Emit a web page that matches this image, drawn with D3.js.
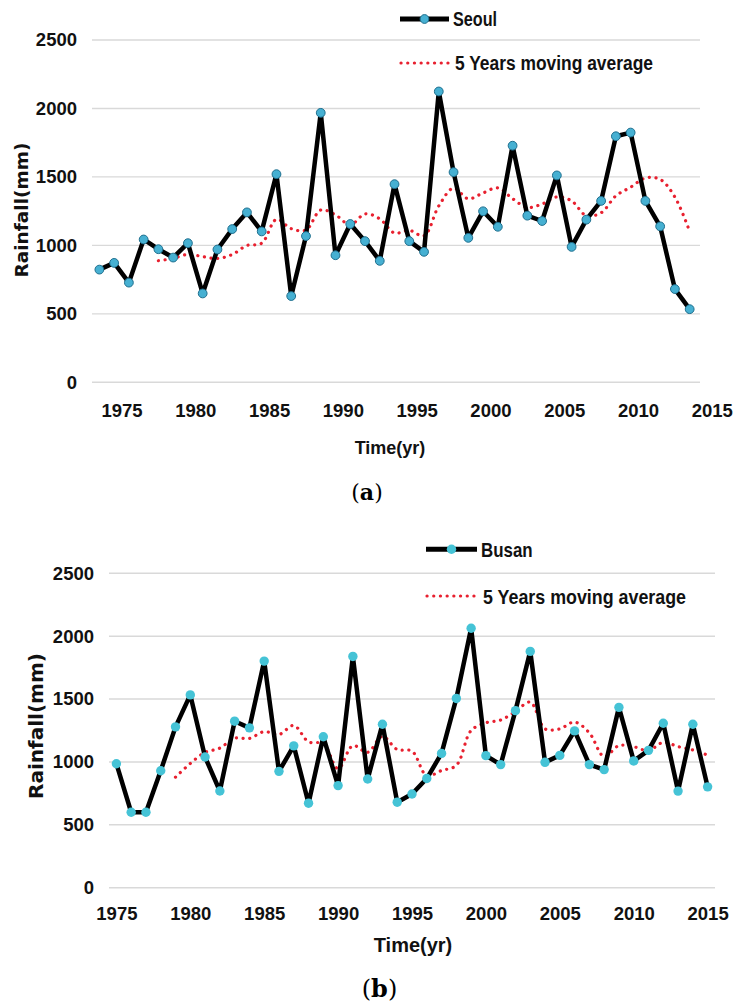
<!DOCTYPE html>
<html><head><meta charset="utf-8">
<script src="https://cdn.jsdelivr.net/npm/d3@7"></script>
<style>body{margin:0;background:#fff;} svg{display:block}</style>
</head><body>
<svg id="c" width="735" height="1005"></svg>
<script>
// ---------- DATA ----------
const seoulYears = d3.range(1973, 2014);
const seoulRain = [823, 872, 728, 1043, 972, 911, 1016, 649, 970, 1119,
  1241, 1102, 1520, 630, 1068, 1968, 928, 1156, 1031, 887,
  1447, 1031, 953, 2124, 1535, 1055, 1249, 1136, 1728, 1217,
  1178, 1511, 989, 1188, 1325, 1797, 1824, 1325, 1139, 681, 534];
const seoulMAYears = d3.range(1977, 2014);
const seoulMA = [888, 905, 934, 918, 904, 933, 999, 1016, 1190, 1122,
  1112, 1258, 1223, 1150, 1230, 1194, 1090, 1110, 1070, 1288,
  1418, 1340, 1383, 1420, 1341, 1277, 1302, 1354, 1325, 1217,
  1238, 1362, 1425, 1492, 1482, 1353, 1101];

const busanYears = d3.range(1975, 2016);
const busanRain = [986, 600, 600, 930, 1279, 1533, 1039, 769, 1324, 1271,
  1802, 925, 1128, 672, 1200, 812, 1839, 864, 1300, 680,
  745, 868, 1068, 1505, 2063, 1050, 979, 1408, 1879, 997,
  1052, 1247, 979, 939, 1434, 1008, 1092, 1308, 768, 1300, 802];
const busanMAYears = d3.range(1979, 2016);
const busanMA = [879, 988, 1076, 1110, 1189, 1187, 1241, 1218, 1290, 1160,
  1145, 947, 1130, 1077, 1203, 1099, 1086, 891, 932, 973,
  1250, 1311, 1333, 1401, 1476, 1263, 1263, 1317, 1231, 1043,
  1130, 1121, 1090, 1156, 1122, 1095, 1054];

const yTicks = [0, 500, 1000, 1500, 2000, 2500];
const xTickLabels = [1975, 1980, 1985, 1990, 1995, 2000, 2005, 2010, 2015];

// ---------- DRAW ----------
const svg = d3.select("#c");

function panel(cfg) {
  const g = svg.append("g");
  const x = d3.scaleLinear().domain(cfg.xDomain).range(cfg.xRange);
  const y = d3.scaleLinear().domain([0, 2500]).range(cfg.yRange);

  // gridlines
  g.append("g").selectAll("line").data(yTicks).join("line")
    .attr("x1", cfg.xRange[0]).attr("x2", cfg.xRange[1])
    .attr("y1", d => y(d)).attr("y2", d => y(d))
    .attr("stroke", "#d9d9d9").attr("stroke-width", 1.4);

  // y axis
  const ya = g.append("g").attr("transform", `translate(${cfg.xRange[0]},0)`)
    .call(d3.axisLeft(y).tickValues(yTicks).tickFormat(d3.format("d")).tickSize(0).tickPadding(15));
  ya.select(".domain").remove();
  ya.selectAll("text").attr("font-family", "Liberation Sans, Arial, sans-serif")
    .attr("font-weight", "bold").attr("font-size", cfg.tickSize).attr("fill", "#111");

  // x axis
  const xa = g.append("g").attr("transform", `translate(0,${cfg.yRange[0]})`)
    .call(d3.axisBottom(x).tickValues(xTickLabels.map(v => v - cfg.labelShift))
      .tickFormat(d => String(Math.round(d + cfg.labelShift))).tickSize(0).tickPadding(cfg.xPad));
  xa.select(".domain").remove();
  xa.selectAll("text").attr("font-family", "Liberation Sans, Arial, sans-serif")
    .attr("font-weight", "bold").attr("font-size", cfg.tickSize).attr("fill", "#111");

  // moving average
  const maData = cfg.maYears.map((yr, i) => ({yr, v: cfg.ma[i]}));
  g.append("path").datum(maData)
    .attr("d", d3.line().x(d => x(d.yr)).y(d => y(d.v)).curve(d3.curveCatmullRom.alpha(0.5)))
    .attr("fill", "none").attr("stroke", "#e8202f").attr("stroke-width", 3.2)
    .attr("stroke-dasharray", "0.1,6.6").attr("stroke-linecap", "round");

  // main series
  const data = cfg.years.map((yr, i) => ({yr, v: cfg.rain[i]}));
  g.append("path").datum(data)
    .attr("d", d3.line().x(d => x(d.yr)).y(d => y(d.v)))
    .attr("fill", "none").attr("stroke", "#000").attr("stroke-width", 4.5)
    .attr("stroke-linejoin", "round");
  g.append("g").selectAll("circle").data(data).join("circle")
    .attr("cx", d => x(d.yr)).attr("cy", d => y(d.v)).attr("r", cfg.r)
    .attr("fill", cfg.mFill).attr("stroke", cfg.mStroke).attr("stroke-width", cfg.mStroke === "none" ? 0 : 1);

  // legend
  const L = cfg.legend;
  g.append("line").attr("x1", L.x0).attr("x2", L.x1).attr("y1", L.y1).attr("y2", L.y1)
    .attr("stroke", "#000").attr("stroke-width", 5);
  g.append("circle").attr("cx", (L.x0 + L.x1) / 2).attr("cy", L.y1).attr("r", cfg.r)
    .attr("fill", cfg.mFill).attr("stroke", cfg.mStroke).attr("stroke-width", cfg.mStroke === "none" ? 0 : 1);
  g.append("text").attr("x", L.tx1).attr("y", L.y1).attr("dy", "0.36em")
    .attr("font-family", "Liberation Sans, Arial, sans-serif").attr("font-weight", "bold")
    .attr("font-size", L.fs).attr("fill", "#111")
    .attr("textLength", L.w1).attr("lengthAdjust", "spacingAndGlyphs").text(cfg.name);
  g.append("line").attr("x1", L.x0 + 1).attr("x2", L.x1).attr("y1", L.y2).attr("y2", L.y2)
    .attr("stroke", "#e8202f").attr("stroke-width", 3.2)
    .attr("stroke-dasharray", "0.1,6.6").attr("stroke-linecap", "round");
  g.append("text").attr("x", L.tx2).attr("y", L.y2).attr("dy", "0.36em")
    .attr("font-family", "Liberation Sans, Arial, sans-serif").attr("font-weight", "bold")
    .attr("font-size", L.fs).attr("fill", "#111")
    .attr("textLength", L.w2).attr("lengthAdjust", "spacingAndGlyphs").text("5 Years moving average");

  // axis titles
  g.append("text").attr("transform", `translate(${cfg.yt[0]},${cfg.yt[1]}) rotate(-90)`)
    .attr("text-anchor", "middle").attr("dy", "0.36em")
    .attr("font-family", "DejaVu Sans, Verdana, sans-serif").attr("font-weight", "bold")
    .attr("font-size", cfg.ytSize).attr("fill", "#111").text("Rainfall(mm)");
  g.append("text").attr("x", cfg.xt[0]).attr("y", cfg.xt[1]).attr("dy", "0.36em")
    .attr("text-anchor", "middle")
    .attr("font-family", "Liberation Sans, Arial, sans-serif").attr("font-weight", "bold")
    .attr("font-size", cfg.xtSize).attr("fill", "#111").text("Time(yr)");

  // panel label
  const pl = g.append("text").attr("x", cfg.pl[0]).attr("y", cfg.pl[1]).attr("text-anchor", "middle")
    .attr("font-family", "DejaVu Serif, Liberation Serif, serif").attr("font-size", cfg.plSize).attr("fill", "#000");
  pl.append("tspan").text("(");
  pl.append("tspan").attr("font-weight", "bold").text(cfg.letter);
  pl.append("tspan").text(")");
}

panel({
  name: "Seoul", letter: "a",
  years: seoulYears, rain: seoulRain, maYears: seoulMAYears, ma: seoulMA,
  xDomain: [1972.5, 2013.7], xRange: [92, 700], yRange: [382.3, 40],
  labelShift: 0.5, xPad: 22, tickSize: 18.5,
  r: 4.4, mFill: "#46b0d2", mStroke: "#1f6f8e",
  legend: {x0: 400, x1: 449, y1: 19, y2: 63, tx1: 453, tx2: 455, fs: 20, w1: 44, w2: 198},
  yt: [21.5, 210], ytSize: 18.5, xt: [390, 448], xtSize: 18,
  pl: [367, 500], plSize: 22
});

panel({
  name: "Busan", letter: "b",
  years: busanYears, rain: busanRain, maYears: busanMAYears, ma: busanMA,
  xDomain: [1974.5, 2015.5], xRange: [109, 715], yRange: [887.7, 573.3],
  labelShift: 0, xPad: 19, tickSize: 18.5,
  r: 4.7, mFill: "#45c3d6", mStroke: "none",
  legend: {x0: 426, x1: 477, y1: 549.3, y2: 596, tx1: 481, tx2: 483, fs: 21, w1: 51.6, w2: 203},
  yt: [35.5, 726], ytSize: 20, xt: [413, 945], xtSize: 20,
  pl: [379.5, 997], plSize: 24
});
</script>
</body></html>
